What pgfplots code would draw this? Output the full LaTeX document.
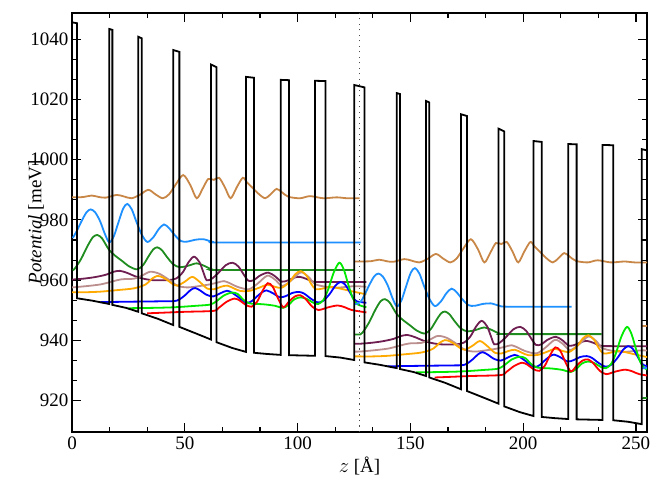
\documentclass[border=0pt]{standalone}
\usepackage{pgfplots}
\pgfplotsset{compat=1.18}
\usepackage{fontspec}
\setmainfont{Liberation Serif}

\definecolor{cBrown}{RGB}{200,135,70}
\definecolor{cSky}{RGB}{30,144,255}
\definecolor{cDGreen}{RGB}{30,140,30}
\definecolor{cMaroon}{RGB}{110,30,80}
\definecolor{cRosy}{RGB}{188,143,143}
\definecolor{cOrange}{RGB}{255,170,0}
\definecolor{cBlue}{RGB}{0,0,255}
\definecolor{cLime}{RGB}{0,235,0}
\definecolor{cRed}{RGB}{255,0,0}

\begin{document}
\begin{tikzpicture}
\begin{axis}[
  name=ax,
  scale only axis,
  width=575bp, height=419bp,
  xmin=0, xmax=254.9,
  ymin=909.6, ymax=1048.7,
  xtick={0,50,100,150,200,250},
  xticklabels={0,50,100,150,200,250},
  ytick={920,940,960,980,1000,1020,1040},
  yticklabels={920,940,960,980,1000,1020,1040},
  minor x tick num=2,
  minor y tick num=2,
  tick align=inside,
  major tick length=9bp,
  minor tick length=5bp,
  every tick/.style={black, line width=1.1bp},
  axis line style={line width=1.3bp},
  tick label style={font=\fontsize{19bp}{22bp}\selectfont},
  label style={font=\fontsize{19bp}{22bp}\selectfont},
  xticklabel style={yshift=-1bp},
  xlabel={$z$ [\AA]},
  ylabel={\textit{Potential} [meV]},
  x label style={at={(axis description cs:0.5,-0.097)}, anchor=base},
  y label style={at={(axis description cs:-0.0626,0.5)}, anchor=center},
  every axis plot/.append style={line width=1.8bp},
]

% ---- period 1 states ----
\addplot[cBrown, smooth] coordinates {
(0,987.5) (5,987.6) (8.7,988.1) (12,987.6) (15,987.4) (19.8,988.3) (23,987.8)
(26.4,987.2) (30,988.3) (33.8,990.0) (37,988.5) (40.2,987.2) (43,988.5) (46,991.8)
(49.3,994.9) (52.5,991.5) (55.3,987.2) (58,990.5) (60.4,993.6) (62.9,993.3)
(65.2,994.0) (67.8,990.8) (70.3,987.2) (73,990.8) (75.7,994.0) (77.5,992.5)
(79.6,991.0) (82.5,988.8) (85.6,987.2) (88,988.5) (90.7,990.3) (93,989.2)
(95.9,987.7) (101.1,987.2) (105.5,987.9) (111.4,987.2) (117.3,987.5) (122,987.2) (127.5,987.2)};

\addplot[cSky, smooth] coordinates {
(0.3,974.0) (2.1,976.3) (4.5,980.0) (6.5,982.6) (8.3,983.5) (10.3,982.5) (12.5,979.5)
(14.5,975.5) (16.5,972.6) (18.5,974.5) (20.5,979.0) (22.7,983.8) (24.5,985.3)
(26.5,983.5) (28.5,979.5) (31,975.0) (33.4,972.7) (36,974.2) (38.5,977.0)
(40.8,978.5) (43,977.3) (45.5,975.0) (48.3,973.0) (51,972.8) (54.5,973.4)
(58.2,973.6) (62,972.8) (66,972.5) (128,972.5)};

\addplot[cDGreen, smooth] coordinates {
(0.3,963.3) (1.3,963.9) (4,967.0) (7,971.5) (9.3,974.3) (11.2,975.0) (13.2,974.0)
(15,971.8) (16.5,970.0) (19,968.2) (22,966.5) (25.5,964.5) (28.9,963.6) (31.5,965.0)
(34,968.0) (36,970.2) (37.8,970.9) (39.8,970.0) (42,967.8) (45,965.2) (48,964.3)
(51.5,964.8) (55.3,965.6) (58.5,964.8) (62,963.6) (66,963.4) (125.4,963.4)};

\addplot[cMaroon, smooth] coordinates {
(0,960.2) (5,960.5) (10,961.0) (15,961.8) (18.5,962.8) (21.3,963.1) (24.5,962.4)
(28,961.3) (31.6,960.5) (36,960.0) (42,960.0) (46,960.5) (49,962.5) (51.7,966.0)
(54.1,967.8) (56.5,966.0) (58.3,962.5) (59.7,960.0) (62,960.5) (65,962.5)
(68.2,965.0) (71.2,965.8) (73.8,964.5) (76.2,961.8) (78.2,959.8) (80.5,960.0)
(83.5,961.6) (87,962.5) (90,961.3) (92.9,959.5) (96,960.0) (98.8,960.9)
(101.1,961.1) (104,960.4) (107,959.5) (112,959.4) (130.5,959.4)};

\addplot[cRosy, smooth] coordinates {
(0,957.6) (6,958.0) (12.7,958.6) (18,959.6) (22,960.3) (27.5,960.5) (31,961.5)
(34.6,962.8) (38.5,962.2) (42.3,960.5) (46.7,958.2) (51,957.6) (56,958.0) (61,958.6)
(64.5,959.2) (67.4,959.7) (70.5,958.8) (73.3,957.8) (78.4,957.0) (82.5,959.0)
(86.6,961.5) (90,960.2) (93.2,958.1) (97,959.8) (101.4,962.6) (105,961.0)
(108,958.6) (116.1,957.5) (125,958.0) (130.5,957.8)};

\addplot[cOrange, smooth] coordinates {
(0,956.0) (6,956.0) (12.7,956.2) (20,956.7) (27.5,957.3) (32.7,958.6) (35.5,960.5)
(37.8,961.4) (40,961.0) (42.3,960.0) (44.5,958.8) (46.7,958.2) (50,959.5) (53.3,961.1)
(56.5,959.5) (60,957.2) (63,957.0) (66,957.8) (68.9,958.2) (72,957.2) (74.8,956.4)
(79,956.5) (83,957.5) (86.6,958.5) (90,957.8) (93,957.5) (96.5,959.5) (99,962.0)
(101.4,963.0) (104,961.5) (106,958.8) (108,957.0) (111,957.2) (114.7,957.8)
(119,957.2) (123.5,956.4) (130.5,955.3)};

\addplot[cBlue, smooth] coordinates {
(12.4,952.7) (20,952.8) (30,952.9) (40,953.0) (46.4,953.2) (50.1,955.0) (52.5,956.7)
(54.6,957.4) (57,956.5) (59.5,955.2) (62.6,954.6) (65.6,955.6) (68.7,956.5)
(71,955.8) (73.5,954.5) (76,953.0) (78,952.5) (80,953.2) (82,954.6) (84.3,956.0)
(86.2,956.6) (89,955.7) (92.2,954.3) (95,954.8) (97.8,955.8) (100.7,956.1)
(103,955.5) (106,953.8) (109,952.6) (111.5,953.2) (114.3,955.5) (116.8,958.2)
(119,959.4) (121,958.6) (122.8,956.5) (124.5,954.3) (126.2,953.0) (130.5,952.5)};

\addplot[cLime, smooth] coordinates {
(25,950.7) (35,950.8) (45,951.0) (55,951.5) (61.2,951.9) (64,953.0) (67.5,955.0)
(71,955.9) (73.5,955.4) (76,953.5) (78.7,952.3) (84.8,952.0) (90,951.5) (93.5,950.8)
(96,951.8) (98.5,953.6) (101.2,954.3) (104,953.8) (107,952.5) (109.2,952.1)
(111.5,953.5) (113.6,957.0) (116,962.5) (118.5,965.8) (120.5,963.5) (122.5,958.5)
(124.5,954.0) (126.5,952.0) (130.5,951.0)};

\addplot[cRed, smooth] coordinates {
(33.3,949.0) (40,949.2) (50,949.5) (62.6,949.8) (65,950.8) (68.5,952.8) (72,953.9)
(74.5,953.2) (77,951.8) (79.6,951.2) (82,952.8) (84.5,956.5) (86.8,959.0) (89,957.8)
(91.3,954.0) (93.7,951.0) (96.3,953.0) (98.8,954.6) (101.2,955.0) (103.5,953.8)
(106.5,951.2) (109.3,950.1) (113.6,951.0) (117.8,951.6) (121,951.0) (124,950.1) (130.5,949.3)};

% ---- period 2 states ----
\addplot[cBrown, smooth] coordinates {
(125.2,966.2) (127.5,966.2) (132.5,966.3) (136.2,966.8) (139.5,966.3) (142.5,966.1)
(147.3,967.0) (150.5,966.5) (153.9,965.9) (157.5,967.0) (161.3,968.7) (164.5,967.2)
(167.7,965.9) (170.5,967.2) (173.5,970.5) (176.8,973.6) (180,970.2) (182.8,965.9)
(185.5,969.2) (187.9,972.3) (190.4,972.0) (192.7,972.7) (195.3,969.5) (197.8,965.9)
(200.5,969.5) (203.2,972.7) (205,971.2) (207.1,969.7) (210,967.5) (213.1,965.9)
(215.5,967.2) (218.2,969.0) (220.5,967.9) (223.4,966.4) (228.6,965.9) (233,966.6)
(238.9,965.9) (244.8,966.2) (249.5,965.9) (255,965.9)};

\addplot[cSky, smooth] coordinates {
(125.2,952.0) (127.8,952.7) (129.6,955.0) (132,958.7) (134,961.3) (135.8,962.2)
(137.8,961.2) (140,958.2) (142,954.2) (144,951.3) (146,953.2) (148,957.7)
(150.2,962.5) (152,964.0) (154,962.2) (156,958.2) (158.5,953.7) (160.9,951.4)
(163.5,952.9) (166,955.7) (168.3,957.2) (170.5,956.0) (173,953.7) (175.8,951.7)
(178.5,951.5) (182,952.1) (185.7,952.3) (189.5,951.5) (193.5,951.2) (221.5,951.2)};

\addplot[cDGreen, smooth] coordinates {
(125.2,942.0) (127.8,942.0) (128.8,942.6) (131.5,945.7) (134.5,950.2) (136.8,953.0)
(138.7,953.7) (140.7,952.7) (142.5,950.5) (144,948.7) (146.5,946.9) (149.5,945.2)
(153,943.2) (156.4,942.3) (159,943.7) (161.5,946.7) (163.5,948.9) (165.3,949.6)
(167.3,948.7) (169.5,946.5) (172.5,943.9) (175.5,943.0) (179,943.5) (182.8,944.3)
(186,943.5) (189.5,942.3) (193.5,942.1) (234.8,942.1)};

\addplot[cMaroon, smooth] coordinates {
(125.2,938.9) (127.5,938.9) (132.5,939.2) (137.5,939.7) (142.5,940.5) (146,941.5)
(148.8,941.8) (152,941.1) (155.5,940.0) (159.1,939.2) (163.5,938.7) (169.5,938.7)
(173.5,939.2) (176.5,941.2) (179.2,944.7) (181.6,946.5) (184,944.7) (185.8,941.2)
(187.2,938.7) (189.5,939.2) (192.5,941.2) (195.7,943.7) (198.7,944.5) (201.3,943.2)
(203.7,940.5) (205.7,938.5) (208,938.7) (211,940.3) (214.5,941.2) (217.5,940.0)
(220.4,938.2) (223.5,938.7) (226.3,939.6) (228.6,939.8) (231.5,939.1) (234.5,938.2)
(239.5,938.1) (258,938.1)};

\addplot[cRosy, smooth] coordinates {
(125.2,936.3) (127.5,936.3) (133.5,936.7) (140.2,937.3) (145.5,938.3) (149.5,939.0)
(155,939.2) (158.5,940.2) (162.1,941.5) (166,940.9) (169.8,939.2) (174.2,936.9)
(178.5,936.3) (183.5,936.7) (188.5,937.3) (192,937.9) (194.9,938.4) (198,937.5)
(200.8,936.5) (205.9,935.7) (210,937.7) (214.1,940.2) (217.5,938.9) (220.7,936.8)
(224.5,938.5) (228.9,941.3) (232.5,939.7) (235.5,937.3) (243.6,936.2) (252.5,936.7) (258,936.5)};

\addplot[cOrange, smooth] coordinates {
(125.2,934.7) (127.5,934.7) (133.5,934.7) (140.2,934.9) (147.5,935.4) (155,936.0)
(160.2,937.3) (163,939.2) (165.3,940.1) (167.5,939.7) (169.8,938.7) (172,937.5)
(174.2,936.9) (177.5,938.2) (180.8,939.8) (184,938.2) (187.5,935.9) (190.5,935.7)
(193.5,936.5) (196.4,936.9) (199.5,935.9) (202.3,935.1) (206.5,935.2) (210.5,936.2)
(214.1,937.2) (217.5,936.5) (220.5,936.2) (224,938.2) (226.5,940.7) (228.9,941.7)
(231.5,940.2) (233.5,937.5) (235.5,935.7) (238.5,935.9) (242.2,936.5) (246.5,935.9)
(251,935.1) (258,934.0)};

\addplot[cBlue, smooth] coordinates {
(139.9,931.4) (147.5,931.5) (157.5,931.6) (167.5,931.7) (173.9,931.9) (177.6,933.7)
(180,935.4) (182.1,936.1) (184.5,935.2) (187,933.9) (190.1,933.3) (193.1,934.3)
(196.2,935.2) (198.5,934.5) (201,933.2) (203.5,931.7) (205.5,931.2) (207.5,931.9)
(209.5,933.3) (211.8,934.7) (213.7,935.3) (216.5,934.4) (219.7,933.0) (222.5,933.5)
(225.3,934.5) (228.2,934.8) (230.5,934.2) (233.5,932.5) (236.5,931.3) (239,931.9)
(241.8,934.2) (244.3,936.9) (246.5,938.1) (248.5,937.3) (250.3,935.2) (252,933.0)
(253.7,931.7) (258,931.2)};

\addplot[cLime, smooth] coordinates {
(152.5,929.4) (162.5,929.5) (172.5,929.7) (182.5,930.2) (188.7,930.6) (191.5,931.7)
(195,933.7) (198.5,934.6) (201,934.1) (203.5,932.2) (206.2,931.0) (212.3,930.7)
(217.5,930.2) (221,929.5) (223.5,930.5) (226,932.3) (228.7,933.0) (231.5,932.5)
(234.5,931.2) (236.7,930.8) (239,932.2) (241.1,935.7) (243.5,941.2) (246,944.5)
(248,942.2) (250,937.2) (252,932.7) (254,930.7) (258,929.7)};

\addplot[cRed, smooth] coordinates {
(160.8,927.7) (167.5,927.9) (177.5,928.2) (190.1,928.5) (192.5,929.5) (196,931.5)
(199.5,932.6) (202,931.9) (204.5,930.5) (207.1,929.9) (209.5,931.5) (212,935.2)
(214.3,937.7) (216.5,936.5) (218.8,932.7) (221.2,929.7) (223.8,931.7) (226.3,933.3)
(228.7,933.7) (231,932.5) (234,929.9) (236.8,928.8) (241.1,929.7) (245.3,930.3)
(248.5,929.7) (251.5,928.8) (258,928.0)};

% ---- start of period 3 ----
\addplot[cBrown] coordinates {(252.6,944.9) (256,944.9)};
\addplot[cSky] coordinates {(252.6,930.7) (256,931.0)};
\addplot[cDGreen] coordinates {(252.6,920.8) (256,921.0)};

% ---- conduction band edge ----
\addplot[black, sharp plot] coordinates {
(0,1045.6) (2.2,1045.3) (2.2,954.0) (9,953.2) (16.5,952.1) (16.5,1043.4) (17.9,1043.1)
(17.9,951.8) (24,950.8) (29.4,949.5) (29.4,1040.8) (30.9,1040.3) (30.9,949.0)
(38,947.2) (44.9,945.1) (44.9,1036.4) (47.6,1035.8) (47.6,944.5) (55,942.3)
(61.6,940.3) (61.6,1031.6) (64.1,1030.7) (64.1,939.4) (71,937.5) (77.1,936.2)
(77.1,1027.5) (80.7,1027.2) (80.7,935.9) (86.5,935.5) (92.5,935.2) (92.5,1026.5)
(96.2,1026.4) (96.2,935.1) (107.7,934.9) (107.7,1026.2) (112.4,1026.1) (112.4,934.8)
(119,934.3) (125.1,933.5) (125.1,1024.8) (129.7,1024.0) (129.7,932.7) (136.5,931.9)
(144.0,930.8) (144.0,1022.1) (145.4,1021.8) (145.4,930.5) (151.5,929.5) (156.9,928.2)
(156.9,1019.5) (158.4,1019.0) (158.4,927.7) (165.5,925.9) (172.4,923.8) (172.4,1015.1)
(175.1,1014.5) (175.1,923.2) (182.5,921.0) (189.1,919.0) (189.1,1010.3) (191.6,1009.4)
(191.6,918.1) (198.5,916.2) (204.6,914.9) (204.6,1006.2) (208.2,1005.9) (208.2,914.6)
(214,914.2) (220.0,913.9) (220.0,1005.2) (223.7,1005.1) (223.7,913.8) (235.2,913.6)
(235.2,1004.9) (239.9,1004.8) (239.9,913.5) (246.5,913.0) (252.6,912.2) (252.6,1003.5)
(257.1,1002.7)};

% period boundary
\addplot[gray!60!black, line width=1.3bp, dash pattern=on 1.3bp off 4.2bp]
  coordinates {(127.4,909.6) (127.4,1048.7)};
\end{axis}
\pgfresetboundingbox
\path[use as bounding box] ([shift={(-72bp,-47bp)}]ax.south west) rectangle ([shift={(8bp,13bp)}]ax.north east);
\end{tikzpicture}
\end{document}
